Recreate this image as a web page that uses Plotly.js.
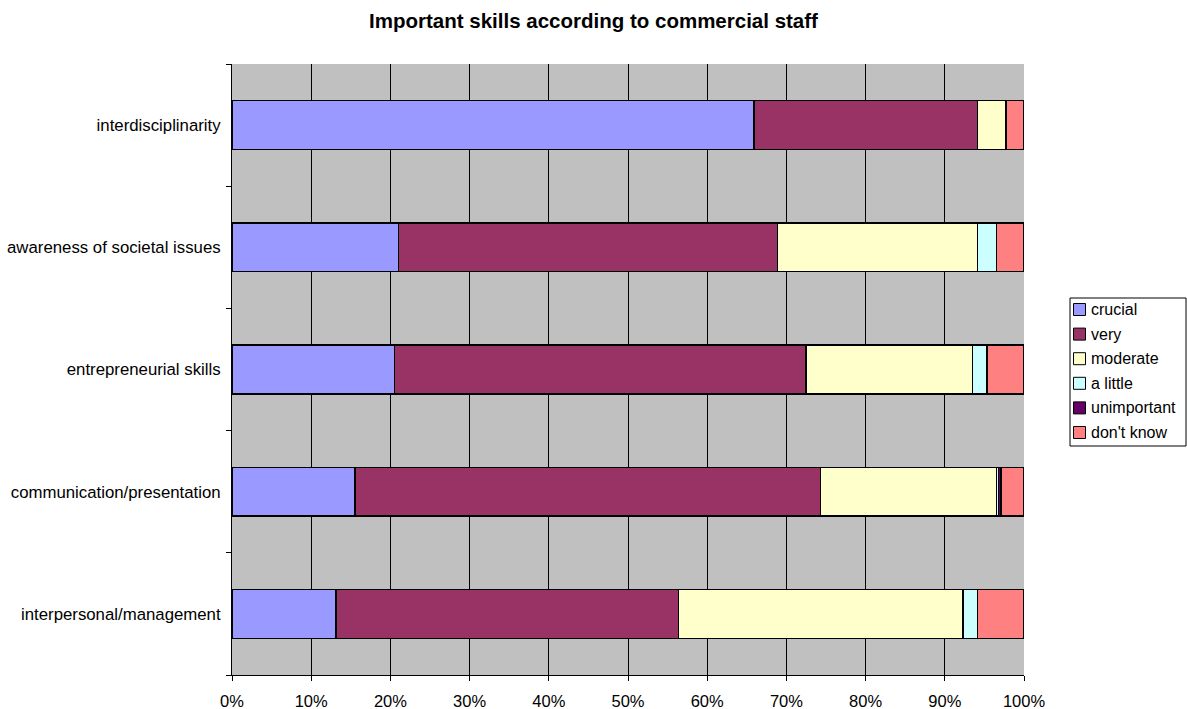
<!DOCTYPE html>
<html>
<head>
<meta charset="utf-8">
<script src="https://cdn.plot.ly/plotly-3.0.1.min.js"></script>
<style>html,body{margin:0;padding:0;background:#fff;}#chart{width:1187px;height:709px;}</style>
</head>
<body>
<div id="chart"></div>
<script>
var skills = ["interpersonal/management", "communication/presentation", "entrepreneurial skills", "awareness of societal issues", "interdisciplinarity"];
var crucial     = [13.1, 15.5, 20.5, 21.0, 65.9];
var very        = [43.3, 58.8, 52.0, 47.9, 28.2];
var moderate    = [35.9, 22.2, 21.0, 25.2, 3.6];
var aLittle     = [1.8, 0.3, 1.8, 2.4, 0];
var unimportant = [0, 0.3, 0, 0, 0];
var dontKnow    = [5.9, 2.9, 4.7, 3.5, 2.3];

var seriesNames = ["crucial", "very", "moderate", "a little", "unimportant", "don't know"];
var seriesData = [crucial, very, moderate, aLittle, unimportant, dontKnow];
var colors = ["#9999FF", "#993366", "#FFFFCC", "#CCFFFF", "#660066", "#FF8080"];
var tickVals = [0,10,20,30,40,50,60,70,80,90,100];
var tickText = ["0%","10%","20%","30%","40%","50%","60%","70%","80%","90%","100%"];

var traces = seriesNames.map(function(n, i){
  return {
    type: "bar", orientation: "h", name: n,
    y: skills, x: seriesData[i],
    marker: {color: colors[i], line: {color: "#000", width: 1.5}},
    hoverinfo: "x+name", showlegend: false
  };
});

// custom legend (box, swatches, labels)
var W = 1187, H = 709;
var shapes = [];
var annotations = [];
var lgLeft = 1070, lgTop = 298, lgRight = 1186, lgBottom = 446, step = 24.6;
shapes.push({type: "rect", xref: "paper", yref: "paper", layer: "above",
  x0: (lgLeft - 232) / 792, x1: (lgRight - 232) / 792,
  y0: (675 - lgBottom) / 611, y1: (675 - lgTop) / 611,
  line: {color: "#000", width: 1}, fillcolor: "#fff"});
seriesNames.forEach(function(n, i){
  var cy = lgTop + 11.5 + i * step;
  shapes.push({type: "rect", xref: "paper", yref: "paper", layer: "above",
    x0: (1073.5 - 232) / 792, x1: (1085.5 - 232) / 792,
    y0: (675 - (cy + 6)) / 611, y1: (675 - (cy - 6)) / 611,
    line: {color: "#000", width: 1}, fillcolor: colors[i]});
  annotations.push({xref: "paper", yref: "paper", x: (1089 - 232) / 792, y: (675 - cy) / 611,
    xanchor: "left", yanchor: "middle", showarrow: false, text: n,
    font: {size: 16, color: "#000"}});
});

var layout = {
  width: W, height: H,
  barmode: "stack", bargap: 0.6,
  paper_bgcolor: "#fff", plot_bgcolor: "#C0C0C0",
  font: {family: "Liberation Sans, Arial, sans-serif", size: 16, color: "#000"},
  title: {text: "<b>Important skills according to commercial staff</b>", x: 0.5, xanchor: "center", xref: "container",
          y: 1 - 21 / 709, yanchor: "middle", font: {size: 20.5}},
  margin: {l: 232, r: 163, t: 64, b: 34},
  xaxis: {range: [0, 100], tickvals: tickVals, ticktext: tickText, tickfont: {size: 16.5},
          showgrid: true, gridcolor: "#000", gridwidth: 1, ticks: "outside", ticklen: 5, tickcolor: "#000",
          showline: true, linecolor: "#000", linewidth: 1, zeroline: false, fixedrange: true, ticklabelstandoff: 6},
  yaxis: {type: "category", tickson: "boundaries", ticks: "outside", ticklen: 5, tickcolor: "#000", tickfont: {size: 16.8},
          showgrid: false, showline: true, linecolor: "#000", linewidth: 1, ticklabelstandoff: 7, fixedrange: true},
  shapes: shapes,
  annotations: annotations,
  showlegend: false
};

Plotly.newPlot("chart", traces, layout, {displayModeBar: false, staticPlot: true});
</script>
</body>
</html>
